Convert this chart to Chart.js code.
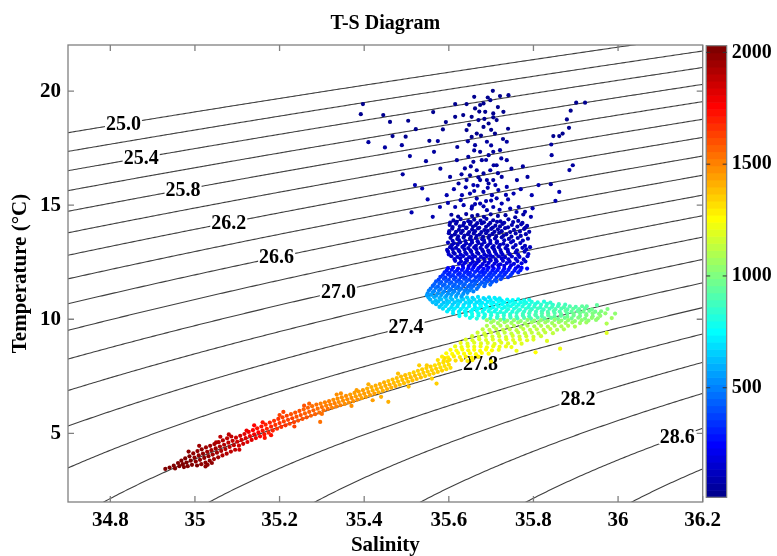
<!DOCTYPE html>
<html>
<head>
<meta charset="utf-8">
<title>T-S Diagram</title>
<script src="https://cdn.jsdelivr.net/npm/chart.js@4.4.0/dist/chart.umd.min.js"></script>
<style>
  html, body { margin: 0; padding: 0; background: #fff; }
  #wrap { width: 777px; height: 556px; }
</style>
</head>
<body>
<div id="wrap"><canvas id="tsChart" width="777" height="556"></canvas></div>
<script>
// Axis ticks and ranges
const salinityTicks = [34.8, 35, 35.2, 35.4, 35.6, 35.8, 36, 36.2];
const temperatureTicks = [5, 10, 15, 20];
const depthTicks = [500, 1000, 1500, 2000];
const salinityRange = [34.7, 36.2];
const temperatureRange = [1.99, 22.02];
const depthRange = [10, 2030];

// Potential density anomaly contours (kg/m3 - 1000)
const densityLevels = [25.0, 25.2, 25.4, 25.6, 25.8, 26.0, 26.2, 26.4, 26.6, 26.8, 27.0,
  27.2, 27.4, 27.6, 27.8, 28.0, 28.2, 28.4, 28.6, 28.8, 29.0, 29.2];
const labelledLevels = [25.0, 25.4, 25.8, 26.2, 26.6, 27.0, 27.4, 27.8, 28.2, 28.6];

// CTD samples: [salinity, temperature (C), depth (m)]
const mixedLayer = [
  [35.397,19.43,16],[35.392,18.99,24],[35.445,18.95,25],[35.461,18.65,30],[35.504,18.70,28],[35.410,17.76,42],
  [35.449,17.53,47],[35.467,18.03,38],[35.489,17.63,45],[35.498,18.00,40],[35.522,18.33,34],[35.508,17.15,55],
  [35.491,16.35,68],[35.520,15.88,76],[35.537,15.73,80],[35.512,14.68,98],[35.562,14.49,104],[35.546,16.93,58],
  [35.554,17.82,41],[35.574,17.81,43],[35.565,17.34,50],[35.586,18.32,35],[35.563,19.08,22],[35.615,19.43,17],
  [35.593,18.64,29],[35.615,18.87,26],[35.634,18.95,24],[35.660,19.75,12],[35.642,19.43,18],[35.662,19.24,20],
  [35.682,19.46,16],[35.692,19.72,13],[35.704,20.01,10],[35.721,19.78,12],[35.741,19.82,12],[35.729,19.09,21],
  [35.705,18.85,25],[35.737,17.78,42],
  [35.901,19.49,15],[35.922,19.49,14],[35.888,19.14,20],[35.879,18.76,26],[35.884,18.39,31],[35.869,18.14,35],
  [35.861,18.03,37],[35.847,18.03,38],[35.842,17.66,44],[35.843,17.19,52],[35.893,16.75,58],[35.885,16.54,62],
  [35.841,15.92,72],[35.861,15.58,78],[35.852,15.19,86],[35.812,15.88,74],[35.786,16.24,68],[35.798,14.86,92],
  [35.794,14.49,100],
  [35.642,18.29,33],[35.654,17.99,38],[35.666,18.14,36],[35.682,18.43,31],[35.694,18.58,29],[35.705,19.02,22],
  [35.713,18.73,27],[35.662,17.63,45],[35.674,17.34,50],[35.690,17.78,42],[35.709,18.14,36],[35.646,17.12,53],
  [35.658,16.90,57],[35.678,16.97,56],[35.694,17.19,52],[35.705,17.34,50],[35.638,16.61,62],[35.650,16.31,67],
  [35.666,16.53,63],[35.682,16.39,66],[35.698,16.53,63],[35.713,16.75,59],[35.623,15.95,72],[35.642,16.10,70],
  [35.658,15.88,74],[35.674,16.10,70],[35.694,15.95,72],[35.705,16.10,70],[35.725,16.24,68],[35.631,15.44,82],
  [35.650,15.51,80],[35.666,15.29,85],[35.682,15.58,79],[35.702,15.44,82],[35.717,15.66,78],[35.737,15.80,75],
  [35.753,15.51,80],[35.615,14.92,92],[35.635,15.00,90],[35.654,14.85,94],[35.674,15.07,89],[35.690,14.78,95],
  [35.705,14.92,92],[35.725,15.07,89],[35.745,14.85,94],[35.765,14.92,92],[35.780,14.71,97],
  [35.619,16.97,56],[35.603,16.24,68],[35.670,18.73,27],[35.654,18.87,25],[35.686,19.09,21],[35.698,19.60,14],
  [35.674,19.39,18],[35.721,17.41,49],[35.737,16.97,56],[35.595,15.44,82],[35.579,14.92,92],[35.796,15.44,82],
  [35.761,16.10,70],[35.628,15.22,86],[35.688,15.18,87],[35.713,15.30,85],[35.660,15.62,78],[35.740,15.25,86],
  [35.648,18.52,30],[35.676,18.05,38],[35.700,17.62,45],[35.660,17.40,49],[35.688,16.98,56],[35.716,16.40,66],
  [35.652,16.70,60],[35.670,16.22,68],[35.692,15.76,77],[35.710,15.88,75],[35.640,15.78,77],[35.662,15.05,90],
  [35.682,14.95,92],[35.700,15.20,87],[35.720,14.80,94],[35.735,15.45,82],[35.748,16.60,61],[35.728,17.90,40],
  [35.684,18.78,26],[35.700,18.30,33],[35.716,19.30,18],[35.672,19.10,21],[35.645,17.80,42],[35.630,16.35,67],
  [35.612,15.70,78],[35.598,15.10,89],[35.770,15.70,77],[35.760,14.70,96],[35.775,16.70,60],[35.706,16.75,59],
  [35.724,17.05,55],[35.690,16.10,70],[35.668,15.85,76],[35.655,14.95,91],[35.740,18.35,32],[35.620,17.55,46],
  [35.580,16.60,61],[35.550,15.25,86]
];

const upperThermocline = [
  [35.606,14.58,70],[35.622,14.50,71],[35.641,14.61,69],[35.655,14.52,71],[35.668,14.57,70],[35.683,14.49,72],
  [35.699,14.60,69],[35.716,14.53,71],[35.734,14.56,70],[35.757,14.47,72],[35.776,14.59,69],
  [35.611,14.33,76],[35.628,14.39,75],[35.646,14.30,77],[35.660,14.37,75],[35.675,14.32,76],[35.689,14.40,74],
  [35.705,14.34,76],[35.722,14.29,77],[35.741,14.38,75],[35.764,14.31,76],
  [35.603,14.24,79],[35.619,14.27,78],[35.636,14.22,80],[35.652,14.26,79],[35.667,14.21,80],[35.683,14.25,79],
  [35.698,14.22,80],[35.714,14.27,78],[35.731,14.23,79],[35.752,14.26,78],[35.774,14.22,80],
  [35.602,14.13,82],[35.617,14.19,81],[35.634,14.11,83],[35.650,14.17,81],[35.663,14.12,83],[35.678,14.20,81],
  [35.694,14.14,82],[35.710,14.10,83],[35.727,14.18,81],[35.749,14.13,82],[35.771,14.16,82],[35.785,14.09,83],
  [35.609,14.04,85],[35.626,14.07,84],[35.642,14.02,86],[35.657,14.06,85],[35.672,14.01,86],[35.688,14.05,85],
  [35.704,14.02,86],[35.721,14.07,84],[35.740,14.03,85],[35.762,14.06,85],[35.781,14.02,86],
  [35.608,13.97,88],[35.624,13.92,89],[35.641,13.99,87],[35.655,13.93,89],[35.669,13.98,88],[35.684,13.91,90],
  [35.700,13.96,88],[35.716,13.94,89],[35.733,13.99,87],[35.754,13.92,89],[35.778,13.96,88],
  [35.601,13.86,91],[35.617,13.83,92],[35.633,13.87,91],[35.648,13.82,92],[35.662,13.86,91],[35.677,13.82,92],
  [35.692,13.87,91],[35.708,13.83,92],[35.725,13.86,91],[35.745,13.82,92],[35.768,13.85,91],[35.790,13.83,92],
  [35.600,13.77,94],[35.614,13.72,96],[35.629,13.78,94],[35.645,13.73,96],[35.659,13.76,95],[35.673,13.71,96],
  [35.688,13.77,94],[35.703,13.74,95],[35.719,13.79,94],[35.736,13.72,96],[35.758,13.76,95],[35.782,13.73,96],
  [35.607,13.66,98],[35.622,13.63,99],[35.637,13.67,98],[35.652,13.62,99],[35.666,13.66,98],[35.681,13.62,99],
  [35.696,13.67,98],[35.712,13.63,99],[35.729,13.66,98],[35.748,13.62,99],[35.770,13.65,98],
  [35.604,13.57,101],[35.620,13.52,103],[35.635,13.58,101],[35.650,13.53,103],[35.664,13.56,102],[35.679,13.51,103],
  [35.694,13.57,101],[35.709,13.54,102],[35.725,13.59,101],[35.742,13.52,103],[35.763,13.56,102],[35.787,13.53,103],
  [35.609,13.44,106],[35.624,13.47,105],[35.639,13.43,107],[35.654,13.46,106],[35.668,13.42,107],[35.683,13.47,105],
  [35.698,13.44,106],[35.714,13.41,107],[35.731,13.46,106],[35.752,13.43,107],[35.775,13.45,106],
  [35.598,13.36,110],[35.612,13.33,111],[35.627,13.37,109],[35.641,13.32,111],[35.655,13.36,110],[35.670,13.34,110],
  [35.684,13.38,109],[35.698,13.33,111],[35.713,13.35,110],[35.729,13.31,112],[35.747,13.37,109],[35.769,13.34,110],
  [35.607,13.24,115],[35.621,13.27,114],[35.636,13.23,116],[35.650,13.26,115],[35.664,13.22,116],[35.678,13.27,114],
  [35.692,13.24,115],[35.706,13.21,117],[35.721,13.26,115],[35.738,13.23,116],[35.758,13.25,115],[35.780,13.22,116],
  [35.603,13.16,120],[35.617,13.13,121],[35.632,13.17,119],[35.646,13.12,121],[35.660,13.15,120],[35.675,13.13,121],
  [35.689,13.17,119],[35.703,13.14,120],[35.718,13.16,120],[35.734,13.12,121],[35.752,13.15,120],[35.774,13.13,121],
  [35.792,13.16,120],
  [35.596,13.04,125],[35.609,13.07,124],[35.623,13.03,126],[35.637,13.06,125],[35.651,13.02,126],[35.665,13.07,124],
  [35.679,13.04,125],[35.693,13.01,127],[35.707,13.06,125],[35.722,13.03,126],[35.739,13.05,125],[35.761,13.02,126],
  [35.783,13.06,125],
  [35.598,12.96,130],[35.611,12.93,131],[35.625,12.97,129],[35.639,12.92,131],[35.653,12.95,130],[35.667,12.93,131],
  [35.681,12.97,129],[35.695,12.94,130],[35.709,12.96,130],[35.724,12.92,131],[35.740,12.95,130],[35.758,12.93,131],
  [35.779,12.96,130],
  [35.600,12.84,137],[35.614,12.87,136],[35.628,12.83,138],[35.642,12.86,137],[35.656,12.82,138],[35.670,12.87,136],
  [35.684,12.84,137],[35.698,12.81,139],[35.712,12.86,137],[35.727,12.83,138],[35.744,12.85,137],[35.764,12.82,138],
  [35.788,12.86,137],
  [35.606,12.76,145],[35.620,12.73,146],[35.634,12.77,144],[35.648,12.72,146],[35.662,12.75,145],[35.676,12.73,146],
  [35.690,12.77,144],[35.704,12.74,145],[35.718,12.76,145],[35.733,12.72,146],[35.749,12.75,145],[35.767,12.73,146],
  [35.786,12.76,145],
  [35.613,12.64,152],[35.627,12.67,151],[35.641,12.63,153],[35.655,12.66,152],[35.669,12.62,153],[35.683,12.67,151],
  [35.697,12.64,152],[35.711,12.61,154],[35.725,12.66,152],[35.741,12.63,153],[35.758,12.65,152],[35.777,12.62,153],
  [35.615,12.56,160],[35.629,12.53,161],[35.643,12.57,159],[35.657,12.52,161],[35.671,12.55,160],[35.685,12.53,161],
  [35.699,12.57,159],[35.713,12.54,160],[35.728,12.56,160],[35.744,12.52,161],[35.762,12.55,160],[35.781,12.53,161],
  [35.624,12.44,170],[35.638,12.47,169],[35.652,12.43,171],[35.666,12.46,170],[35.680,12.42,171],[35.694,12.47,169],
  [35.708,12.44,170],[35.722,12.41,172],[35.737,12.46,170],[35.754,12.43,171],[35.772,12.45,170],
  [35.633,12.36,182],[35.647,12.33,183],[35.661,12.37,181],[35.675,12.32,183],[35.689,12.35,182],[35.703,12.33,183],
  [35.717,12.37,181],[35.731,12.34,182],[35.747,12.36,182],[35.764,12.32,183]
];

const mainThermocline = [
  [35.598,12.24,256],[35.610,12.27,254],[35.622,12.22,257],[35.634,12.25,255],[35.646,12.23,256],[35.658,12.27,254],
  [35.670,12.24,256],[35.682,12.21,258],[35.694,12.26,255],[35.706,12.23,256],[35.718,12.25,255],[35.731,12.22,257],
  [35.744,12.26,255],[35.758,12.23,256],[35.772,12.25,255],[35.785,12.22,257],
  [35.595,12.14,276],[35.607,12.17,274],[35.619,12.13,277],[35.631,12.16,275],[35.643,12.12,277],[35.655,12.17,274],
  [35.667,12.14,276],[35.679,12.11,278],[35.691,12.16,275],[35.703,12.13,277],[35.715,12.15,276],[35.728,12.12,277],
  [35.741,12.16,275],[35.755,12.13,277],[35.769,12.15,276],
  [35.590,12.06,299],[35.602,12.03,301],[35.614,12.07,298],[35.626,12.02,302],[35.638,12.05,300],[35.650,12.03,301],
  [35.662,12.07,298],[35.674,12.04,300],[35.686,12.06,299],[35.698,12.02,302],[35.710,12.05,300],[35.723,12.03,301],
  [35.736,12.06,299],[35.750,12.03,301],[35.764,12.05,300],
  [35.586,11.94,326],[35.598,11.97,324],[35.610,11.93,327],[35.622,11.96,325],[35.634,11.92,327],[35.646,11.97,324],
  [35.658,11.94,326],[35.670,11.91,328],[35.682,11.96,325],[35.694,11.93,327],[35.706,11.95,326],[35.719,11.92,327],
  [35.732,11.96,325],[35.746,11.93,327],
  [35.580,11.86,349],[35.592,11.83,351],[35.604,11.87,348],[35.616,11.82,352],[35.628,11.85,350],[35.640,11.83,351],
  [35.652,11.87,348],[35.664,11.84,350],[35.676,11.86,349],[35.688,11.82,352],[35.700,11.85,350],[35.713,11.83,351],
  [35.727,11.86,349],[35.740,11.84,350],
  [35.576,11.74,376],[35.588,11.77,374],[35.600,11.73,377],[35.612,11.76,375],[35.624,11.72,377],[35.636,11.77,374],
  [35.648,11.74,376],[35.660,11.71,378],[35.672,11.76,375],[35.684,11.73,377],[35.696,11.75,376],[35.709,11.72,377],
  [35.723,11.76,375],
  [35.570,11.66,399],[35.582,11.63,401],[35.594,11.67,398],[35.606,11.62,402],[35.618,11.65,400],[35.630,11.63,401],
  [35.642,11.67,398],[35.654,11.64,400],[35.666,11.66,399],[35.678,11.62,402],[35.690,11.65,400],[35.702,11.63,401],
  [35.712,11.66,399],
  [35.566,11.54,426],[35.578,11.57,424],[35.590,11.53,427],[35.602,11.56,425],[35.614,11.52,427],[35.626,11.57,424],
  [35.638,11.54,426],[35.650,11.51,428],[35.662,11.56,425],[35.674,11.53,427],[35.686,11.55,426],[35.698,11.52,427],
  [35.562,11.46,449],[35.574,11.43,451],[35.586,11.47,448],[35.598,11.42,452],[35.610,11.45,450],[35.622,11.43,451],
  [35.634,11.47,448],[35.646,11.44,450],[35.658,11.46,449],[35.670,11.42,452],[35.684,11.45,450],
  [35.557,11.34,476],[35.569,11.37,474],[35.581,11.33,477],[35.593,11.36,475],[35.605,11.32,477],[35.617,11.37,474],
  [35.629,11.34,476],[35.641,11.31,478],[35.653,11.36,475],[35.666,11.33,477],
  [35.553,11.26,499],[35.565,11.23,501],[35.577,11.27,498],[35.589,11.22,502],[35.601,11.25,500],[35.613,11.23,501],
  [35.625,11.27,498],[35.637,11.24,500],[35.649,11.26,499],[35.658,11.22,502],
  [35.550,11.14,526],[35.562,11.17,524],[35.574,11.13,527],[35.586,11.16,525],[35.598,11.12,527],[35.610,11.17,524],
  [35.622,11.14,526],[35.634,11.11,528],[35.644,11.16,525],
  [35.548,11.04,551],[35.558,11.07,549],[35.570,11.03,552],[35.582,11.06,550],[35.594,11.02,552],[35.606,11.07,549],
  [35.618,11.04,551],[35.630,11.01,553]
];

const intermediateWater = [
  [35.552,10.95,582],[35.565,10.97,592],[35.578,10.93,602],[35.591,10.96,613],[35.604,10.94,623],[35.617,10.97,634],
  [35.630,10.93,644],[35.643,10.96,654],[35.656,10.94,665],[35.669,10.98,675],[35.682,10.93,686],[35.695,10.96,696],
  [35.708,10.94,706],[35.720,10.92,716],
  [35.556,10.86,600],[35.569,10.83,610],[35.582,10.87,621],[35.595,10.84,631],[35.608,10.86,641],[35.621,10.82,652],
  [35.634,10.87,662],[35.647,10.84,673],[35.660,10.86,683],[35.673,10.83,693],[35.686,10.87,704],[35.699,10.84,714],
  [35.712,10.86,725],[35.725,10.82,735],[35.738,10.86,745],[35.751,10.84,756],[35.764,10.87,766],[35.778,10.83,777],
  [35.790,10.85,787],
  [35.562,10.74,620],[35.575,10.77,630],[35.588,10.73,640],[35.601,10.76,651],[35.614,10.74,661],[35.627,10.77,672],
  [35.640,10.73,682],[35.653,10.76,692],[35.666,10.74,703],[35.679,10.72,713],[35.692,10.76,724],[35.705,10.73,734],
  [35.718,10.77,744],[35.731,10.74,755],[35.744,10.76,765],[35.757,10.73,776],[35.770,10.75,786],[35.783,10.72,796],
  [35.796,10.76,807],[35.810,10.74,818],[35.825,10.77,830],[35.840,10.73,842],
  [35.570,10.66,641],[35.583,10.63,651],[35.596,10.67,662],[35.609,10.64,672],[35.622,10.66,683],[35.635,10.62,693],
  [35.648,10.67,703],[35.661,10.64,714],[35.674,10.66,724],[35.687,10.63,735],[35.700,10.67,745],[35.713,10.64,755],
  [35.726,10.66,766],[35.739,10.62,776],[35.752,10.66,786],[35.765,10.64,797],[35.778,10.67,807],[35.791,10.63,818],
  [35.804,10.66,828],[35.818,10.64,839],[35.832,10.67,851],[35.846,10.63,862],[35.860,10.66,873],[35.875,10.64,885],
  [35.578,10.54,662],[35.592,10.57,674],[35.606,10.53,685],[35.620,10.56,696],[35.634,10.54,707],[35.648,10.57,718],
  [35.662,10.53,730],[35.676,10.56,741],[35.690,10.54,752],[35.704,10.52,763],[35.718,10.56,774],[35.732,10.53,786],
  [35.746,10.57,797],[35.760,10.54,808],[35.774,10.56,819],[35.788,10.53,830],[35.802,10.55,842],[35.816,10.52,853],
  [35.830,10.56,864],[35.844,10.54,875],[35.858,10.57,886],[35.872,10.53,898],[35.886,10.56,909],[35.900,10.54,920],
  [35.915,10.57,932],
  [35.586,10.46,684],[35.600,10.43,695],[35.614,10.47,706],[35.628,10.44,717],[35.642,10.46,729],[35.656,10.42,740],
  [35.670,10.47,751],[35.684,10.44,762],[35.698,10.46,773],[35.712,10.43,785],[35.726,10.47,796],[35.740,10.44,807],
  [35.754,10.46,818],[35.768,10.42,829],[35.782,10.46,841],[35.796,10.44,852],[35.810,10.47,863],[35.824,10.43,874],
  [35.838,10.46,885],[35.852,10.44,897],[35.866,10.47,908],[35.880,10.43,919],[35.894,10.46,930],[35.908,10.44,941],
  [35.922,10.47,953],[35.938,10.43,965],
  [35.596,10.34,707],[35.610,10.37,718],[35.624,10.33,729],[35.638,10.36,740],[35.652,10.34,752],[35.666,10.37,763],
  [35.680,10.33,774],[35.694,10.36,785],[35.708,10.34,796],[35.722,10.32,808],[35.736,10.36,819],[35.750,10.33,830],
  [35.764,10.37,841],[35.778,10.34,852],[35.792,10.36,864],[35.806,10.33,875],[35.820,10.35,886],[35.834,10.32,897],
  [35.848,10.36,908],[35.862,10.34,920],[35.876,10.37,931],[35.890,10.33,942],[35.904,10.36,953],[35.918,10.34,964],
  [35.932,10.37,976],[35.946,10.33,987],[35.960,10.35,998],
  [35.610,10.26,733],[35.625,10.23,745],[35.640,10.27,757],[35.655,10.24,769],[35.670,10.26,781],[35.685,10.22,793],
  [35.700,10.27,805],[35.715,10.24,817],[35.730,10.26,829],[35.745,10.23,841],[35.760,10.27,853],[35.775,10.24,865],
  [35.790,10.26,877],[35.805,10.22,889],[35.820,10.26,901],[35.835,10.24,913],[35.850,10.27,925],[35.865,10.23,937],
  [35.880,10.26,949],[35.895,10.24,961],[35.910,10.27,973],[35.925,10.23,985],[35.940,10.26,997],[35.955,10.24,1009],
  [35.970,10.26,1021],
  [35.625,10.14,760],[35.640,10.17,772],[35.655,10.13,784],[35.670,10.16,796],[35.685,10.14,808],[35.700,10.17,820],
  [35.715,10.13,832],[35.730,10.16,844],[35.745,10.14,856],[35.760,10.12,868],[35.775,10.16,880],[35.790,10.13,892],
  [35.805,10.17,904],[35.820,10.14,916],[35.835,10.16,928],[35.850,10.13,940],[35.865,10.15,952],[35.880,10.12,964],
  [35.895,10.16,976],[35.910,10.14,988],[35.925,10.17,1000],[35.940,10.13,1012],[35.958,10.15,1026],
  [35.650,10.06,795],[35.666,10.03,808],[35.682,10.07,821],[35.698,10.04,834],[35.714,10.06,846],[35.730,10.02,859],
  [35.746,10.07,872],[35.762,10.04,885],[35.778,10.06,897],[35.794,10.03,910],[35.810,10.07,923],[35.826,10.04,936],
  [35.842,10.06,949],[35.858,10.02,961],[35.874,10.06,974],[35.890,10.04,987],[35.906,10.07,1000],[35.922,10.03,1013],
  [35.938,10.06,1025],[35.952,10.04,1037],
  [35.690,9.96,1060],[35.706,9.93,1055],[35.722,9.97,1050],[35.738,9.94,1045],[35.754,9.96,1040],[35.770,9.92,1038],
  [35.786,9.97,1036],[35.802,9.94,1034],[35.818,9.96,1032],[35.834,9.93,1030],[35.850,9.97,1030],[35.866,9.94,1030],
  [35.882,9.96,1030],[35.898,9.92,1032],[35.914,9.96,1034],[35.930,9.94,1036],[35.948,9.97,1040],
  [35.993,10.25,1020],[35.973,9.81,1090],[35.926,10.57,950],[35.950,10.62,940],[35.975,10.45,990],[35.985,10.05,1060]
];

const lowerIntermediate = [
  [35.700,9.86,1080],[35.716,9.83,1082],[35.732,9.87,1078],[35.748,9.84,1080],[35.764,9.86,1079],[35.780,9.82,1082],
  [35.796,9.87,1078],[35.812,9.84,1080],[35.828,9.86,1078],[35.844,9.83,1080],[35.860,9.87,1076],[35.876,9.84,1078],
  [35.892,9.86,1075],[35.910,9.83,1076],[35.925,9.86,1072],
  [35.690,9.71,1104],[35.706,9.68,1102],[35.722,9.72,1101],[35.738,9.69,1100],[35.754,9.71,1100],[35.770,9.67,1099],
  [35.786,9.72,1098],[35.802,9.69,1097],[35.818,9.71,1096],[35.834,9.68,1095],[35.850,9.72,1094],[35.866,9.69,1092],
  [35.882,9.71,1090],[35.898,9.68,1088],
  [35.680,9.56,1126],[35.696,9.53,1124],[35.712,9.57,1123],[35.728,9.54,1122],[35.744,9.56,1121],[35.760,9.52,1120],
  [35.776,9.57,1119],[35.792,9.54,1118],[35.808,9.56,1117],[35.824,9.53,1116],[35.840,9.57,1115],[35.856,9.54,1114],
  [35.872,9.56,1112],
  [35.668,9.41,1150],[35.684,9.38,1148],[35.700,9.42,1147],[35.716,9.39,1146],[35.732,9.41,1145],[35.748,9.37,1144],
  [35.764,9.42,1143],[35.780,9.39,1142],[35.796,9.41,1141],[35.812,9.38,1140],[35.828,9.42,1139],[35.846,9.39,1138],
  [35.655,9.26,1170],[35.671,9.23,1168],[35.687,9.27,1167],[35.703,9.24,1166],[35.719,9.26,1165],[35.735,9.22,1164],
  [35.751,9.27,1163],[35.767,9.24,1162],[35.783,9.26,1161],[35.800,9.23,1160],[35.818,9.26,1158],
  [35.640,9.11,1190],[35.656,9.08,1188],[35.672,9.12,1187],[35.688,9.09,1186],[35.704,9.11,1185],[35.720,9.07,1184],
  [35.736,9.12,1183],[35.752,9.09,1182],[35.768,9.11,1181],[35.785,9.08,1180],[35.800,9.11,1178],
  [35.628,8.96,1210],[35.644,8.93,1208],[35.660,8.97,1207],[35.676,8.94,1206],[35.692,8.96,1205],[35.708,8.92,1204],
  [35.724,8.97,1203],[35.740,8.94,1202],[35.756,8.96,1201],[35.772,8.93,1200],
  [35.615,8.81,1230],[35.630,8.78,1228],[35.645,8.82,1227],[35.660,8.79,1226],[35.675,8.81,1225],[35.690,8.77,1224],
  [35.705,8.82,1223],[35.720,8.79,1222],[35.735,8.81,1221],[35.748,8.78,1220],
  [35.604,8.66,1250],[35.618,8.63,1248],[35.632,8.67,1247],[35.646,8.64,1246],[35.660,8.66,1245],[35.674,8.62,1244],
  [35.688,8.67,1243],[35.702,8.64,1242],[35.718,8.66,1240],
  [35.594,8.51,1270],[35.608,8.48,1268],[35.622,8.52,1267],[35.636,8.49,1266],[35.650,8.51,1265],[35.664,8.47,1264],
  [35.678,8.52,1263],[35.694,8.49,1262],
  [35.584,8.36,1290],[35.598,8.33,1288],[35.612,8.37,1287],[35.626,8.34,1286],[35.640,8.36,1285],[35.654,8.32,1284],
  [35.670,8.36,1283],
  [35.574,8.21,1310],[35.588,8.18,1308],[35.602,8.22,1307],[35.616,8.19,1306],[35.630,8.21,1305],[35.644,8.17,1304],
  [35.656,8.21,1303],
  [35.973,9.40,1180],[35.863,8.71,1230],[35.805,8.55,1250],[35.700,8.15,1290],[35.760,8.62,1240],[35.832,9.05,1190]
];

const deepWater = [
  [35.597,8.16,1312],[35.600,8.01,1320],[35.604,7.87,1326],[35.587,8.10,1318],[35.590,7.95,1326],[35.594,7.81,1332],
  [35.577,8.04,1324],[35.580,7.89,1332],[35.584,7.75,1338],[35.567,7.98,1330],[35.570,7.83,1338],[35.574,7.69,1344],
  [35.557,7.92,1336],[35.560,7.77,1344],[35.564,7.63,1350],[35.547,7.86,1342],[35.550,7.71,1350],[35.554,7.57,1356],
  [35.537,7.80,1348],[35.540,7.65,1356],[35.544,7.51,1362],[35.527,7.74,1354],[35.530,7.59,1362],[35.534,7.45,1368],
  [35.517,7.67,1360],[35.520,7.52,1368],[35.524,7.38,1374],[35.507,7.61,1366],[35.510,7.46,1374],[35.514,7.32,1380],
  [35.497,7.55,1372],[35.500,7.40,1380],[35.504,7.26,1386],[35.487,7.49,1378],[35.490,7.34,1386],[35.494,7.20,1392],
  [35.477,7.42,1384],[35.480,7.27,1392],[35.484,7.13,1398],[35.467,7.36,1390],[35.470,7.21,1398],[35.474,7.07,1404],
  [35.457,7.29,1396],[35.460,7.14,1404],[35.464,7.00,1410],[35.447,7.23,1402],[35.450,7.08,1410],[35.454,6.94,1416],
  [35.437,7.16,1408],[35.440,7.01,1416],[35.444,6.87,1422],[35.427,7.09,1414],[35.430,6.94,1422],[35.434,6.80,1428],
  [35.417,7.03,1420],[35.420,6.88,1428],[35.424,6.74,1434],[35.407,6.96,1426],[35.410,6.81,1434],[35.414,6.67,1440],
  [35.397,6.89,1432],[35.400,6.74,1440],[35.404,6.60,1446],[35.387,6.83,1440],[35.390,6.68,1448],[35.394,6.54,1454],
  [35.377,6.77,1448],[35.380,6.62,1456],[35.384,6.48,1462],[35.367,6.70,1456],[35.370,6.55,1464],[35.374,6.41,1470],
  [35.357,6.64,1464],[35.360,6.49,1472],[35.364,6.35,1478],[35.347,6.58,1472],[35.350,6.43,1480],[35.354,6.29,1486],
  [35.337,6.52,1482],[35.340,6.37,1490],[35.344,6.23,1496],[35.327,6.47,1492],[35.330,6.32,1500],[35.334,6.18,1506],
  [35.317,6.41,1502],[35.320,6.26,1510],[35.324,6.12,1516],[35.307,6.36,1512],[35.310,6.21,1520],[35.314,6.07,1526],
  [35.297,6.30,1522],[35.300,6.15,1530],[35.304,6.01,1536],
  [35.287,6.26,1536],[35.290,6.08,1544],[35.294,5.91,1550],[35.277,6.19,1550],[35.280,6.01,1558],[35.284,5.84,1564],
  [35.267,6.12,1564],[35.270,5.94,1572],[35.274,5.77,1578],[35.257,6.05,1578],[35.260,5.87,1586],[35.264,5.70,1592],
  [35.247,5.98,1592],[35.250,5.80,1600],[35.254,5.63,1606],[35.237,5.91,1604],[35.240,5.73,1612],[35.244,5.56,1618],
  [35.227,5.84,1616],[35.230,5.66,1624],[35.234,5.49,1630],[35.217,5.77,1628],[35.220,5.59,1636],[35.224,5.42,1642],
  [35.207,5.70,1640],[35.210,5.52,1648],[35.214,5.35,1654],[35.197,5.63,1652],[35.200,5.45,1660],[35.204,5.28,1666],
  [35.187,5.55,1668],[35.190,5.37,1676],[35.194,5.20,1682],[35.177,5.47,1684],[35.180,5.29,1692],[35.184,5.12,1698],
  [35.167,5.38,1700],[35.170,5.20,1708],[35.174,5.03,1714],[35.157,5.30,1716],[35.160,5.12,1724],[35.164,4.95,1730],
  [35.147,5.22,1742],[35.150,5.04,1750],[35.154,4.87,1756],[35.137,5.14,1772],[35.140,4.96,1780],[35.144,4.79,1786],
  [35.127,5.06,1798],[35.130,4.88,1805],[35.134,4.71,1810],[35.117,4.97,1824],[35.120,4.79,1830],[35.124,4.62,1836],
  [35.107,4.89,1845],[35.110,4.71,1850],[35.114,4.54,1855],[35.097,4.81,1860],[35.100,4.63,1866],[35.104,4.46,1870],
  [35.086,4.86,1875],[35.089,4.67,1880],[35.092,4.48,1884],[35.095,4.28,1888],
  [35.076,4.78,1890],[35.079,4.59,1895],[35.082,4.40,1898],[35.085,4.20,1902],
  [35.066,4.69,1905],[35.069,4.50,1910],[35.072,4.31,1914],[35.075,4.11,1918],
  [35.056,4.61,1920],[35.059,4.42,1925],[35.062,4.23,1930],[35.065,4.03,1934],
  [35.046,4.53,1938],[35.049,4.34,1943],[35.052,4.15,1947],[35.055,3.95,1951],
  [35.036,4.45,1950],[35.039,4.26,1955],[35.042,4.07,1959],[35.045,3.87,1963],
  [35.026,4.38,1962],[35.029,4.19,1966],[35.032,4.00,1970],[35.035,3.80,1974],
  [35.016,4.30,1972],[35.019,4.11,1976],[35.022,3.92,1980],[35.025,3.72,1984],
  [35.006,4.22,1982],[35.009,4.03,1986],[35.012,3.84,1990],[35.015,3.65,1994],
  [34.996,4.12,1992],[34.999,3.94,1995],[35.002,3.76,1998],[35.005,3.59,2001],
  [34.987,3.99,2000],[34.990,3.80,2003],[34.993,3.62,2006],[34.977,3.90,2005],[34.980,3.72,2008],[34.983,3.56,2011],
  [34.968,3.80,2010],[34.971,3.65,2013],[34.974,3.52,2016],[34.960,3.70,2016],[34.963,3.56,2019],
  [34.950,3.58,2022],[34.953,3.46,2026],[34.940,3.50,2028],[34.930,3.44,2030],
  [35.209,5.94,1650],[35.296,5.50,1540],[35.457,6.38,1410],[35.382,6.89,1450],[35.571,7.18,1360],[35.548,7.98,1345],
  [35.258,6.21,1590],[35.160,5.48,1720],[35.122,5.12,1800],[35.180,4.92,1740],[35.335,6.70,1480],[35.420,6.45,1440],
  [35.060,4.85,1900],[35.030,3.62,1985],
  [35.010,4.45,1965],[35.040,3.70,1975],[35.080,4.95,1880],[35.105,4.28,1870],[35.140,5.35,1760],[35.165,4.80,1745],
  [35.200,5.80,1650],[35.235,5.30,1640],[35.270,6.30,1565],[35.300,5.85,1545],[35.345,6.75,1475],[35.370,6.20,1475],
  [35.410,7.15,1430],[35.440,6.60,1430],[35.480,7.62,1385],[35.505,7.05,1395],[35.530,7.98,1355],[35.560,7.40,1360],
  [35.590,8.30,1315],[34.985,4.20,1995],[35.050,4.60,1935],[35.025,3.55,1985]
];

const waterMasses = [mixedLayer, upperThermocline, mainThermocline, intermediateWater, lowerIntermediate, deepWater];

// UNESCO (EOS-80) density at surface pressure, minus 1000
function sigma0(s, t) {
  const rw = 999.842594 + t * (6.793952e-2 + t * (-9.095290e-3 + t * (1.001685e-4 + t * (-1.120083e-6 + t * 6.536332e-9))));
  const a = 0.824493 + t * (-4.0899e-3 + t * (7.6438e-5 + t * (-8.2467e-7 + t * 5.3875e-9)));
  const b = -5.72466e-3 + t * (1.0227e-4 - t * 1.6546e-6);
  return rw + s * a + s * Math.sqrt(s) * b + 4.8314e-4 * s * s - 1000;
}

// temperature on an isopycnal for a given salinity (bisection)
function isopycnalTemp(s, level) {
  let lo = -2, hi = 40;
  if (sigma0(s, lo) < level || sigma0(s, hi) > level) return null;
  for (let i = 0; i < 50; i++) {
    const mid = (lo + hi) / 2;
    if (sigma0(s, mid) > level) lo = mid; else hi = mid;
  }
  return (lo + hi) / 2;
}

// MATLAB-style jet(64) colour table
const jetTable = (() => {
  const m = 64, n = 16, u = [];
  for (let i = 1; i <= n; i++) u.push(i / n);
  for (let i = 0; i < n - 1; i++) u.push(1);
  for (let i = n; i >= 1; i--) u.push(i / n);
  const rgb = Array.from({ length: m }, () => [0, 0, 0]);
  u.forEach((val, k) => {
    const g = 8 + k;           // zero-based row for green
    const r = g + n, b = g - n;
    if (g < m) rgb[g][1] = val;
    if (r < m) rgb[r][0] = val;
    if (b >= 0) rgb[b][2] = val;
  });
  return rgb.map(c => `rgb(${Math.round(c[0] * 255)},${Math.round(c[1] * 255)},${Math.round(c[2] * 255)})`);
})();

function depthColor(d) {
  const f = (d - depthRange[0]) / (depthRange[1] - depthRange[0]);
  const k = Math.max(0, Math.min(63, Math.floor(f * 64)));
  return jetTable[k];
}

const serif = '"Liberation Serif", "Times New Roman", Times, serif';
const axisFont = { family: serif, size: 21, weight: 'bold' };

// isopycnal polylines sampled along the salinity axis
const isopycnals = densityLevels.map(level => {
  const pts = [];
  for (let i = 0; i <= 300; i++) {
    const s = salinityRange[0] + i * (salinityRange[1] - salinityRange[0]) / 300;
    const t = isopycnalTemp(s, level);
    if (t !== null) pts.push({ x: s, y: t });
  }
  return pts;
});

const datasets = [];
isopycnals.forEach((pts, i) => {
  datasets.push({
    kind: 'isopycnal',
    label: densityLevels[i].toFixed(1),
    data: pts,
    showLine: true,
    borderColor: '#404040',
    borderWidth: 1.1,
    pointRadius: 0,
    order: 1
  });
});
waterMasses.forEach(rows => {
  datasets.push({
    kind: 'samples',
    data: rows.map(([s, t, d]) => ({ x: s, y: t, d })),
    showLine: false,
    pointRadius: 2.1,
    pointBorderWidth: 0,
    pointBackgroundColor: ctx => depthColor(ctx.raw ? ctx.raw.d : depthRange[0]),
    order: 0
  });
});

// where each contour label sits along its line
const labelSalinity = [34.831, 34.873, 34.972, 35.080, 35.193, 35.339, 35.499, 35.675, 35.905, 36.140];
let contoursDrawn = 0;

const isopycnalLabels = {
  id: 'isopycnalLabels',
  beforeDatasetsDraw() { contoursDrawn = 0; },
  afterDatasetDraw(chart, args) {
    if (chart.data.datasets[args.index].kind !== 'isopycnal') return;
    if (++contoursDrawn < densityLevels.length) return;
    const { ctx, scales: { x, y } } = chart;
    ctx.save();
    ctx.font = `bold 20px ${serif}`;
    ctx.textAlign = 'center';
    ctx.textBaseline = 'middle';
    labelledLevels.forEach((level, i) => {
      const s = labelSalinity[i];
      const t = isopycnalTemp(s, level);
      const px = x.getPixelForValue(s);
      const py = y.getPixelForValue(t);
      const text = level.toFixed(1);
      const w = ctx.measureText(text).width;
      ctx.fillStyle = '#fff';
      ctx.fillRect(px - w / 2 - 1, py - 7, w + 2, 14);
      ctx.fillStyle = '#000';
      ctx.fillText(text, px, py + 1);
    });
    ctx.restore();
  }
};

// box, inward ticks, colour bar and title
const frameAndColorbar = {
  id: 'frameAndColorbar',
  afterDraw(chart) {
    const { ctx, chartArea: a, scales: { x, y, depth } } = chart;
    ctx.save();

    // colour bar
    const barLeft = a.right + 3.5, barRight = a.right + 24;
    const yTop = depth.getPixelForValue(depthRange[1]);
    const yBot = depth.getPixelForValue(depthRange[0]);
    const step = (yBot - yTop) / 64;
    jetTable.forEach((c, k) => {
      ctx.fillStyle = c;
      ctx.fillRect(barLeft, yBot - (k + 1) * step, barRight - barLeft, step + 0.6);
    });
    ctx.strokeStyle = '#808080';
    ctx.lineWidth = 1.2;
    ctx.strokeRect(barLeft, yTop, barRight - barLeft, yBot - yTop);
    ctx.strokeStyle = '#333';
    ctx.lineWidth = 1;
    ctx.beginPath();
    depthTicks.forEach(v => {
      const py = depth.getPixelForValue(v);
      ctx.moveTo(barLeft, py); ctx.lineTo(barLeft + 4, py);
      ctx.moveTo(barRight, py); ctx.lineTo(barRight - 4, py);
    });
    ctx.stroke();

    // axes box with ticks pointing in
    ctx.strokeStyle = '#808080';
    ctx.lineWidth = 1.3;
    ctx.strokeRect(a.left, a.top, a.right - a.left, a.bottom - a.top);
    const len = 6;
    ctx.beginPath();
    salinityTicks.forEach(v => {
      const px = x.getPixelForValue(v);
      ctx.moveTo(px, a.bottom); ctx.lineTo(px, a.bottom - len);
      ctx.moveTo(px, a.top); ctx.lineTo(px, a.top + len);
    });
    temperatureTicks.forEach(v => {
      const py = y.getPixelForValue(v);
      ctx.moveTo(a.left, py); ctx.lineTo(a.left + len, py);
      ctx.moveTo(a.right, py); ctx.lineTo(a.right - len, py);
    });
    ctx.stroke();

    // title
    ctx.fillStyle = '#000';
    ctx.font = `bold 20px ${serif}`;
    ctx.textAlign = 'center';
    ctx.textBaseline = 'alphabetic';
    ctx.fillText('T-S Diagram', (a.left + a.right) / 2, 28.5);
    ctx.restore();
  }
};

new Chart(document.getElementById('tsChart').getContext('2d'), {
  type: 'scatter',
  data: { datasets },
  options: {
    responsive: false,
    animation: false,
    events: [],
    devicePixelRatio: 1,
    layout: { padding: { top: 45, right: 0, bottom: 0, left: 0 } },
    plugins: {
      legend: { display: false },
      tooltip: { enabled: false },
      title: { display: false }
    },
    scales: {
      x: {
        type: 'linear',
        min: salinityRange[0],
        max: salinityRange[1],
        afterBuildTicks: axis => { axis.ticks = salinityTicks.map(v => ({ value: v })); },
        afterFit: axis => { axis.height = 54; },
        grid: { display: false, drawTicks: false },
        border: { display: false },
        ticks: {
          color: '#000',
          font: axisFont,
          padding: 6,
          maxRotation: 0,
          autoSkip: false,
          callback: v => String(Math.round(v * 10) / 10)
        },
        title: {
          display: true,
          text: 'Salinity',
          color: '#000',
          font: { ...axisFont, lineHeight: 1 },
          padding: 0
        }
      },
      y: {
        type: 'linear',
        position: 'left',
        min: temperatureRange[0],
        max: temperatureRange[1],
        afterBuildTicks: axis => { axis.ticks = temperatureTicks.map(v => ({ value: v })); },
        afterFit: axis => { axis.width = 68; },
        grid: { display: false, drawTicks: false },
        border: { display: false },
        ticks: { color: '#000', font: axisFont, padding: 7, autoSkip: false, callback: v => String(v) },
        title: {
          display: true,
          text: 'Temperature (°C)',
          color: '#000',
          font: { ...axisFont, lineHeight: 1 },
          padding: { top: 10, bottom: 0 }
        }
      },
      depth: {
        type: 'linear',
        position: 'right',
        // a little headroom so the bar sits just inside the axes height
        min: depthRange[0] - 21,
        max: depthRange[1] + 3,
        afterBuildTicks: axis => { axis.ticks = depthTicks.map(v => ({ value: v })); },
        afterFit: axis => { axis.width = 74.3; },
        grid: { display: false, drawTicks: false },
        border: { display: false },
        ticks: {
          color: '#000',
          font: { family: serif, size: 20, weight: 'bold' },
          padding: 29,
          autoSkip: false,
          callback: v => String(v)
        }
      }
    }
  },
  plugins: [isopycnalLabels, frameAndColorbar]
});
</script>
</body>
</html>
